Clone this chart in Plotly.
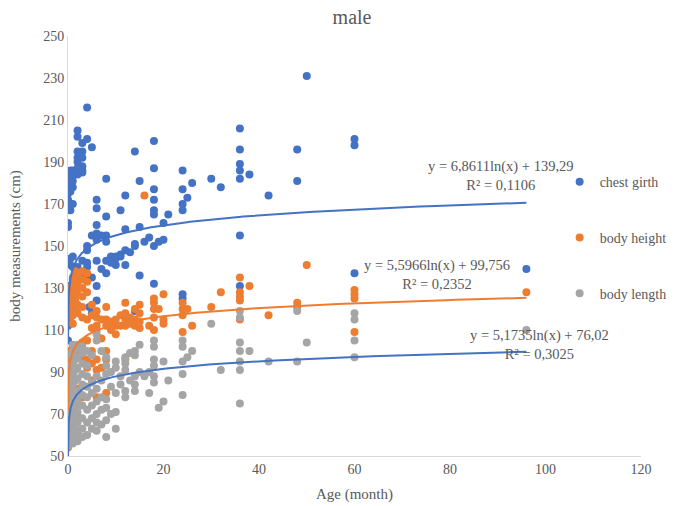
import numpy as np
import plotly.graph_objects as go

# ---------------- data ----------------
chest_age = [0,0,0,0,0,0,0,0,0,0,0,0,0,0,0,0,0,0,0,0,
             0.5,0.5,0.5,0.5,0.5,0.5,0.5,
             1,1,1,1,1,1,1,1,
             2,2,2,2,2,2,2,2,2,
             3,3,3,3,3,3,3,3,
             4,4,4,4,4,4,4,4.5,
             5,5,5,5,
             6,6,6,6,6,6,6,6,
             7,7,
             8,8,8,8,8,8,
             9,9,
             10,10,10,
             11,11,11,
             12,12,12,12,
             13,
             14,14,14,14,
             15,15,15,
             16,17,
             18,18,18,18,18,18,18,18,
             19,20,20,21,
             24,24,24,24,24,24,
             25,26,30,32,
             36,36,36,36,36,36,36,
             38,42,48,48,50,60,60,60,96]
chest_val = [185,182,180,178,175,172,170,168,161,159,142,131,126,120,112,91,88,85,78,105,
             186,183,179,176,167,141,144,
             186,184,181,178,170,145,140,134,
             205,202,195,192,190,187,184,134,140,
             199,195,192,188,185,186,137,143,
             216,201,150,148,134,140,142,121,
             197,155,135,118,
             172,168,160,156,153,143,131,124,
             139,155,
             182,164,155,152,143,137,
             142,145,
             144,145,141,
             167,145,146,
             174,158,148,141,
             147,
             195,150,151,119,
             181,159,136,
             152,154,
             200,187,177,172,167,165,150,132,
             152,161,153,165,
             186,177,170,167,127,125,
             173,180,182,178,
             206,196,189,186,182,155,131,
             184,174,196,181,231,201,198,137,139]

height_age = [0,0,0,0,0,0,0,0,0,0,0,0,0,0,
              0.5,0.5,0.5,0.5,0.5,0.5,0.5,0.5,
              1,1,1,1,1,1,1,1,1,1,1,
              1.5,1.5,1.5,1.5,1.5,1.5,
              2,2,2,2,2,2,2,2,2,
              3,3,3,3,3,3,3,3,3,
              4,4,4,4,4,4,4,
              5,5,5,5,5,5,
              6,6,6,6,6,6,6,
              7,7,7,
              8,8,8,8,8,8,
              9,9,
              10,10,10,
              11,11,
              12,12,12,12,12,
              13,13,
              14,14,14,
              15,15,15,15,
              16,17,
              18,18,18,18,18,
              19,20,20,20,
              24,24,24,24,
              25,26,30,32,
              36,36,36,36,36,
              38,42,48,48,50,
              60,60,60,60,96]
height_val = [100,97,89,84,78,72,68,65,56,54,126,123,120,116,
              130,127,122,118,114,96,92,68,
              135,131,128,125,121,117,113,102,85,74,66,
              138,133,129,124,119,70,
              136,132,127,122,118,100,82,77,69,
              138,134,130,126,121,116,104,97,78,
              137,133,128,115,105,96,92,
              122,117,111,100,94,86,
              119,116,112,110,96,91,78,
              115,106,92,
              121,115,112,100,96,80,
              114,110,
              115,112,108,
              117,112,
              123,118,115,112,96,
              116,113,
              120,115,112,
              122,118,114,111,
              174,112,
              125,123,120,116,110,
              120,127,115,113,
              123,120,117,109,
              120,112,121,128,
              135,128,126,124,115,
              131,117,123,121,141,
              129,127,125,109,128]

length_age = [0,0,0,0,0,0,0,0,
              0.5,0.5,0.5,0.5,0.5,0.5,0.5,0.5,0.5,
              1,1,1,1,1,1,1,1,1,1,1,
              1.5,1.5,1.5,1.5,1.5,1.5,1.5,1.5,1.5,
              2,2,2,2,2,2,2,2,2,2,
              3,3,3,3,3,3,3,3,3,3,
              4,4,4,4,4,4,4,4,
              5,5,5,5,5,5,
              6,6,6,6,6,6,6,6,
              7,7,7,7,7,
              8,8,8,8,8,8,8,
              9,9,9,
              10,10,10,10,10,
              11,11,
              12,12,12,12,12,
              13,13,
              14,14,14,14,14,
              15,15,16,17,17,
              18,18,18,18,18,18,
              19,20,20,21,
              24,24,24,24,24,
              25,26,30,32,
              36,36,36,36,36,36,36,
              38,42,48,48,50,
              60,60,60,60,96]
length_val = [57,55,60,65,70,73,80,85,
              58,62,67,72,76,82,88,93,98,
              56,60,64,69,74,79,84,89,94,100,103,
              58,63,68,73,78,86,91,96,101,
              57,61,66,71,76,81,87,92,97,103,
              59,63,68,74,79,84,89,94,99,102,
              60,66,72,78,83,88,93,100,
              63,68,74,80,85,98,
              62,66,70,76,82,88,105,108,
              65,72,78,86,100,
              59,67,73,77,89,93,97,
              70,83,90,
              63,71,80,92,95,
              84,88,
              78,81,91,94,97,
              86,99,
              81,84,88,98,100,
              90,103,88,80,90,
              105,102,96,93,88,85,
              73,95,76,86,
              105,102,95,89,79,
              97,100,113,91,
              119,116,104,100,95,91,75,
              100,95,119,95,104,
              118,115,105,97,110]

# logarithmic trendlines  y = a*ln(x) + b   (as printed on the chart)
trend_a = [6.8611, 5.5966, 5.1735]
trend_b = [139.29, 99.756, 76.02]
trend_r2 = ["0,1106", "0,2352", "0,3025"]
trend_label_a = ["6,8611", "5,5966", "5,1735"]
trend_label_b = ["139,29", "99,756", "76,02"]
trend_xmin = 0.0065
trend_xmax = 96

x_ticks = [0, 20, 40, 60, 80, 100, 120]
y_ticks = [50, 70, 90, 110, 130, 150, 170, 190, 210, 230, 250]

# ---------------- styling ----------------
BLUE = "#4472C4"
ORANGE = "#ED7D31"
GRAY = "#A5A5A5"
TXT = "#595959"
FONT = "Liberation Serif"

fig = go.Figure()

series = [
    ("chest girth", chest_age, chest_val, BLUE),
    ("body height", height_age, height_val, ORANGE),
    ("body length", length_age, length_val, GRAY),
]
for name, xs, ys, col in series:
    fig.add_trace(go.Scatter(
        x=xs, y=ys, mode="markers", name=name, legendgroup=name,
        marker=dict(color=col, size=8, line=dict(width=0)),
    ))

trend_colors = [BLUE, ORANGE, BLUE]
tx = np.geomspace(trend_xmin, trend_xmax, 400)
for i in range(3):
    ty = trend_a[i] * np.log(tx) + trend_b[i]
    fig.add_trace(go.Scatter(
        x=tx, y=ty, mode="lines", showlegend=False, hoverinfo="skip",
        line=dict(color=trend_colors[i], width=2),
    ))

# trendline equation labels (positions in data coordinates)
label_pos = [(90.6, 183.8), (77.3, 136.2), (98.8, 102.9)]
for i in range(3):
    fig.add_annotation(
        x=label_pos[i][0], y=label_pos[i][1], xref="x", yref="y",
        text=f"y = {trend_label_a[i]}ln(x) + {trend_label_b[i]}<br>R² = {trend_r2[i]}",
        showarrow=False, align="center",
        font=dict(family=FONT, size=14.5, color=TXT),
    )

axis_common = dict(
    showgrid=False, zeroline=False, showline=True, linecolor="#D9D9D9",
    linewidth=1, ticks="", tickfont=dict(family=FONT, size=14, color=TXT),
)

fig.update_layout(
    width=677, height=506,
    margin=dict(l=68, r=36, t=36, b=50, autoexpand=False),
    paper_bgcolor="white", plot_bgcolor="white",
    title=dict(text="male", x=0.52, xanchor="center", y=0.966, yanchor="middle",
               font=dict(family=FONT, size=20, color=TXT)),
    xaxis=dict(range=[0, 120], tickvals=x_ticks, **axis_common,
               title=dict(text="Age (month)", font=dict(family=FONT, size=15, color=TXT), standoff=12)),
    yaxis=dict(range=[50, 250], tickvals=y_ticks, **axis_common,
               title=dict(text="body measurements (cm)", font=dict(family=FONT, size=15, color=TXT), standoff=18)),
    legend=dict(x=0.858, y=0.69, xanchor="left", yanchor="top",
                bgcolor="rgba(0,0,0,0)", tracegroupgap=34.5,
                font=dict(family=FONT, size=14, color=TXT)),
    showlegend=True,
)

fig.write_html("out.html")
